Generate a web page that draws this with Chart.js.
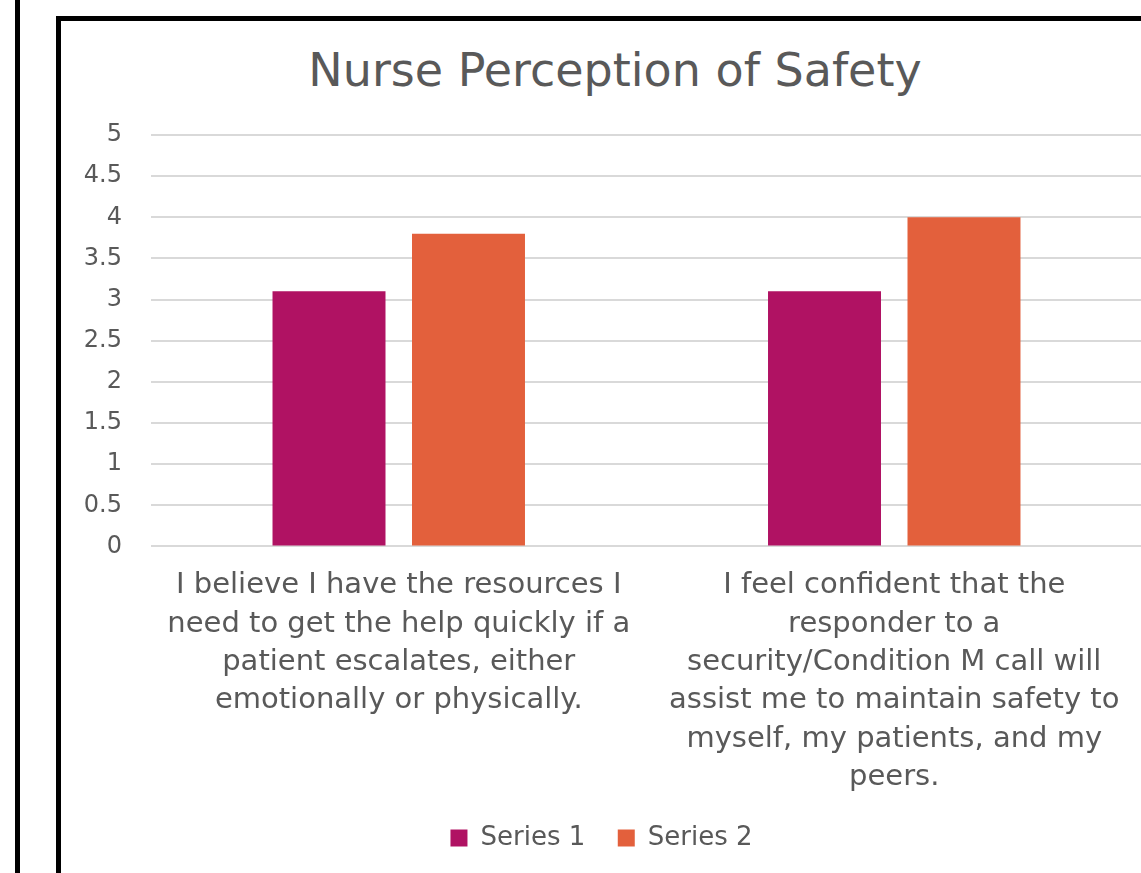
<!DOCTYPE html>
<html>
<head>
<meta charset="utf-8">
<script src="https://cdn.jsdelivr.net/npm/chart.js@4"></script>
<style>
  html, body { margin: 0; padding: 0; background: #fff; overflow: hidden; width: 1141px; height: 873px; }
  #outer-line { position: absolute; left: 15px; top: 0; width: 5px; height: 873px; background: #000; }
  #frame { position: absolute; left: 56px; top: 16px; width: 1200px; height: 1000px; border: 5px solid #000; box-sizing: border-box; }
  #chart-title { position: absolute; left: 61px; top: 47px; width: 1108px; text-align: center;
                 font-family: "DejaVu Sans", sans-serif; font-size: 46px; line-height: 46px; color: #595959; }
  #chart-wrap { position: absolute; left: 61px; top: 21px; width: 1108px; height: 852px; }
</style>
</head>
<body>
<div id="outer-line"></div>
<div id="frame"></div>
<div id="chart-title">Nurse Perception of Safety</div>
<div id="chart-wrap"><canvas id="safety-chart"></canvas></div>
<script>
// Chart data
const categories = [
    ['I believe I have the resources I', 'need to get the help quickly if a', 'patient escalates, either', 'emotionally or physically.'],
    ['I feel confident that the', 'responder to a', 'security/Condition M call will', 'assist me to maintain safety to', 'myself, my patients, and my', 'peers.']
];
const series1 = [3.1, 3.1];
const series2 = [3.8, 4.0];
const seriesNames = ['Series 1', 'Series 2'];
const seriesColors = ['#B01263', '#E3603C'];

const fontFamily = '"DejaVu Sans", sans-serif';
const textColor = '#595959';

function initializeChart() {
    const canvas = document.getElementById('safety-chart');
    const ctx = canvas.getContext('2d');

    new Chart(ctx, {
        type: 'bar',
        data: {
            labels: categories,
            datasets: [series1, series2].map((values, i) => ({
                label: seriesNames[i],
                data: values,
                backgroundColor: seriesColors[i],
                borderWidth: 0,
                categoryPercentage: 0.563,
                barPercentage: 0.81
            }))
        },
        options: {
            responsive: true,
            maintainAspectRatio: false,
            animation: false,
            layout: {
                // top space is taken by the html title above the canvas
                padding: { left: 0, right: 27, top: 114, bottom: 12 }
            },
            scales: {
                x: {
                    grid: { display: false },
                    border: { display: false },
                    ticks: {
                        color: textColor,
                        font: { family: fontFamily, size: 29, lineHeight: 1.325 },
                        maxRotation: 0,
                        autoSkip: false,
                        padding: 12
                    }
                },
                y: {
                    min: 0,
                    max: 5,
                    ticks: {
                        stepSize: 0.5,
                        color: textColor,
                        font: { family: fontFamily, size: 24 },
                        padding: 29,
                        callback: v => String(v)
                    },
                    grid: { color: '#D9D9D9', lineWidth: 2, drawTicks: false },
                    border: { display: false },
                    afterFit: scale => { scale.width = 90; }
                }
            },
            plugins: {
                legend: {
                    position: 'bottom',
                    labels: {
                        color: textColor,
                        font: { family: fontFamily, size: 26 },
                        boxWidth: 17,
                        boxHeight: 17,
                        padding: 16,
                        // a little extra room between the two legend entries
                        generateLabels: chart => {
                            const items = Chart.defaults.plugins.legend.labels.generateLabels(chart);
                            items.forEach((item, i) => {
                                if (i < items.length - 1) item.text = item.text + '  ';
                            });
                            return items;
                        }
                    }
                },
                tooltip: { enabled: false }
            }
        }
    });
}

initializeChart();
</script>
</body>
</html>
